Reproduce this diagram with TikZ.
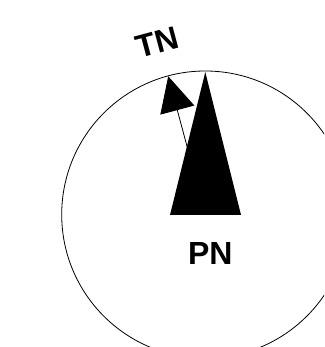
\documentclass[tikz,border=0pt]{standalone}
\usepackage{fontspec}
\setmainfont{Liberation Sans}
\usetikzlibrary{arrows.meta,calc}
\begin{document}
\begin{tikzpicture}[x=1pt,y=1pt,
  lbl/.style={font=\fontsize{32}{32}\selectfont\bfseries, inner sep=0pt},
  ring/.style={draw=black, line width=0.8pt},
  tnarrow/.style={line width=0.8pt, -{Triangle[length=35pt,width=35pt]}},
  pnarrow/.style={fill=black}]
\useasboundingbox (0,0) rectangle (324,347);
\clip (0,0) rectangle (324,347);
\coordinate (c) at (205.3,132.4);
\draw[ring] (c) circle[radius=143.6];
\coordinate (tn) at ($(c)+(105:143.2)$);
\draw[tnarrow] (c) -- (tn);
\coordinate (apex) at (205.3,275);
\coordinate (bl) at (170,132);
\coordinate (br) at (241,132);
\fill[pnarrow] (apex) -- (br) -- (bl) -- cycle;
\node[lbl, rotate=15] (tnlabel) at (157,305) {TN};
\node[lbl] (pnlabel) at (210.3,94) {PN};
\end{tikzpicture}
\end{document}
